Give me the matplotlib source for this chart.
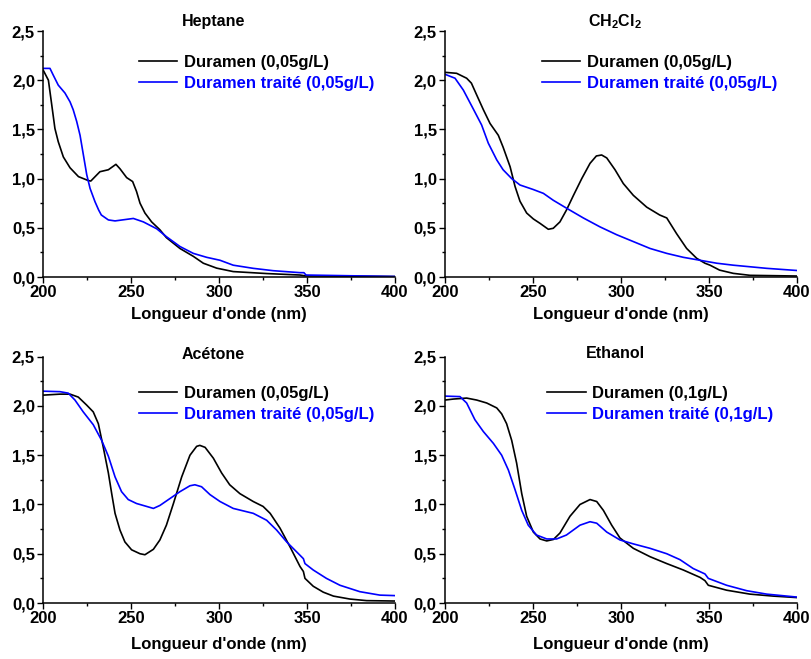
import numpy as np
import matplotlib
matplotlib.use("Agg")
import matplotlib.pyplot as plt
from matplotlib.ticker import MultipleLocator, FuncFormatter

plt.rcParams['font.family'] = ['Liberation Sans', 'DejaVu Sans']
plt.rcParams['mathtext.fontset'] = 'custom'
plt.rcParams['mathtext.rm'] = 'Liberation Sans'
plt.rcParams['mathtext.bf'] = 'Liberation Sans:bold'

# Heptane
hepWlBlack = [200, 202.9, 204.8, 206.6, 208.5, 211.4, 215.2, 220, 225.6, 227, 232.2, 237, 241.3,
              243.6, 247.4, 250.8, 253, 255, 257.8, 261.6, 266.3, 270, 277.7, 285.3, 291, 298.6,
              308, 327, 346, 348.8, 400]
hepAbsBlack = [2.10, 2.00, 1.75, 1.51, 1.375, 1.22, 1.11, 1.02, 0.98, 0.975, 1.07, 1.09, 1.145,
               1.10, 1.01, 0.97, 0.87, 0.75, 0.65, 0.56, 0.48, 0.40, 0.29, 0.21, 0.14, 0.09,
               0.055, 0.035, 0.02, 0.012, 0.005]
hepWlBlue = [200, 203.8, 205.7, 208.5, 212.3, 215.2, 217, 219, 220.9, 222.8, 224.7, 226.6, 229.4,
             231.5, 233, 237, 240.8, 251.2, 256.9, 264.5, 270, 277.7, 285.3, 292.9, 300.5, 308,
             319.4, 330.8, 346, 348.2, 349.4, 400]
hepAbsBlue = [2.12, 2.12, 2.05, 1.95, 1.87, 1.78, 1.70, 1.58, 1.44, 1.24, 1.04, 0.90, 0.765,
              0.68, 0.63, 0.58, 0.57, 0.595, 0.56, 0.49, 0.41, 0.31, 0.24, 0.20, 0.17, 0.12,
              0.088, 0.064, 0.044, 0.044, 0.02, 0.005]

# CH2Cl2
dcmWlBlack = [200, 206.6, 212.3, 215, 218, 221.8, 225.6, 230.3, 233, 237, 239.8, 242.6, 246.4, 250.2,
              254, 258.7, 261.5, 265.3, 269, 273, 277.7, 282.4, 286, 289, 291.9, 296.6, 301.3, 307,
              314.6, 322, 326, 331.6, 337.3, 343, 347.7, 350.6, 356, 363.8, 373.3, 400]
dcmAbsBlack = [2.08, 2.07, 2.02, 1.97, 1.85, 1.70, 1.56, 1.44, 1.32, 1.12, 0.92, 0.77, 0.65, 0.59,
               0.545, 0.485, 0.495, 0.56, 0.68, 0.83, 1.00, 1.155, 1.23, 1.24, 1.21, 1.09, 0.95, 0.83,
               0.71, 0.63, 0.60, 0.44, 0.29, 0.19, 0.14, 0.12, 0.07, 0.037, 0.017, 0.01]
dcmWlBlue = [200, 205.7, 210.4, 216, 220.8, 224.6, 229.4, 233, 237.9, 242.6, 250, 255.9, 261.5, 269,
             278.6, 288, 297.5, 307, 316.5, 326, 335.4, 344.9, 354.4, 363.8, 382.8, 400]
dcmAbsBlue = [2.06, 2.02, 1.90, 1.71, 1.545, 1.36, 1.19, 1.09, 1.00, 0.935, 0.89, 0.85, 0.78, 0.70,
              0.60, 0.51, 0.43, 0.36, 0.29, 0.24, 0.20, 0.17, 0.14, 0.12, 0.088, 0.066]

# Acetone
aceWlBlack = [200, 209.5, 215.2, 219.9, 224.6, 228.4, 231.3, 234, 237, 238.9, 240.8, 243.6, 246.4,
              250.2, 255, 257.8, 262.6, 266.3, 270, 274, 278.7, 283.4, 287.2, 289, 292, 296.7, 301.4,
              306, 311.8, 319.4, 325, 329, 334.6, 340.3, 346, 347.9, 348.8, 353.5, 359.2, 365, 374.4,
              383.9, 400]
aceAbsBlack = [2.11, 2.12, 2.12, 2.09, 2.01, 1.94, 1.82, 1.59, 1.32, 1.11, 0.91, 0.74, 0.62,
               0.54, 0.50, 0.49, 0.545, 0.64, 0.79, 1.01, 1.28, 1.50, 1.59, 1.60, 1.58, 1.47, 1.32,
               1.20, 1.11, 1.03, 0.98, 0.91, 0.76, 0.57, 0.37, 0.32, 0.25, 0.17, 0.11, 0.07, 0.04,
               0.024, 0.02]
aceWlBlue = [200, 209.5, 214.2, 218, 222.7, 228.4, 233.2, 237, 240.8, 244.5, 248.3, 253, 258.8, 262.6,
             266.3, 272, 277.7, 283.4, 286.2, 290, 294.8, 300.5, 308, 319.4, 327, 332.7, 338.4, 344,
             347.9, 348.8, 353.5, 361, 368.7, 380, 391.4, 400]
aceAbsBlue = [2.15, 2.145, 2.13, 2.06, 1.94, 1.81, 1.65, 1.49, 1.28, 1.13, 1.05, 1.01, 0.98, 0.96,
              0.99, 1.06, 1.13, 1.19, 1.20, 1.18, 1.10, 1.03, 0.96, 0.91, 0.84, 0.74, 0.62, 0.52,
              0.45, 0.40, 0.335, 0.25, 0.18, 0.115, 0.08, 0.075]

# Ethanol
ethWlBlack = [200, 204.7, 212.3, 218, 223.7, 229.4, 232.2, 235, 237.9, 240.7, 243.6, 246.4, 250.2,
              254, 257.8, 261.6, 265.3, 271, 276.7, 282.4, 286.2, 290, 294.7, 299.4, 307, 316.5, 326,
              335.4, 344.9, 347.7, 349.6, 360, 373.3, 386.5, 400]
ethAbsBlack = [2.06, 2.07, 2.08, 2.06, 2.03, 1.98, 1.92, 1.82, 1.65, 1.42, 1.11, 0.88, 0.72,
               0.65, 0.63, 0.645, 0.71, 0.88, 1.00, 1.05, 1.03, 0.94, 0.79, 0.66, 0.555, 0.47, 0.40,
               0.335, 0.26, 0.227, 0.18, 0.13, 0.09, 0.07, 0.055]
ethWlBlue = [200, 208.5, 212.3, 217, 221.8, 227.5, 232.2, 236, 239.8, 243.6, 247.3, 252, 257.8, 263.4,
             269, 276.7, 282.4, 286.2, 291.9, 299.4, 307, 316.5, 326, 333.5, 341, 347.7, 349.6, 360,
             371.4, 382.8, 400]
ethAbsBlue = [2.10, 2.095, 2.03, 1.86, 1.74, 1.62, 1.50, 1.35, 1.15, 0.94, 0.79, 0.69, 0.65, 0.65,
              0.69, 0.79, 0.825, 0.81, 0.72, 0.64, 0.60, 0.555, 0.50, 0.44, 0.35, 0.295, 0.25, 0.18,
              0.125, 0.09, 0.06]

titles = ["Heptane", r"CH$_\mathbf{2}$Cl$_\mathbf{2}$", "Acétone", "Ethanol"]
labelsBlack = ["Duramen (0,05g/L)", "Duramen (0,05g/L)", "Duramen (0,05g/L)", "Duramen (0,1g/L)"]
labelsBlue = ["Duramen traité (0,05g/L)", "Duramen traité (0,05g/L)", "Duramen traité (0,05g/L)",
              "Duramen traité (0,1g/L)"]
seriesBlack = [(hepWlBlack, hepAbsBlack), (dcmWlBlack, dcmAbsBlack), (aceWlBlack, aceAbsBlack),
               (ethWlBlack, ethAbsBlack)]
seriesBlue = [(hepWlBlue, hepAbsBlue), (dcmWlBlue, dcmAbsBlue), (aceWlBlue, aceAbsBlue),
              (ethWlBlue, ethAbsBlue)]

W, H = 812, 659
fig = plt.figure(figsize=(W / 100, H / 100), dpi=100)

# axes boxes in pixels: left, top, right, bottom
boxes = [(43.3, 31, 395, 277), (445, 31, 797, 277), (43.3, 356.7, 395, 603), (445, 356.7, 797, 603)]
titleY = [1.04, 1.04, 1.007, 1.015]
legendX = [0.272, 0.276, 0.272, 0.291]
legendY = [0.902, 0.902, 0.882, 0.882]
xlabelPad = [5, 5, 8, 8]

commaFmt = FuncFormatter(lambda v, p: f"{v:.1f}".replace(".", ","))

for i in range(4):
    l, t, r, b = boxes[i]
    ax = fig.add_axes([l / W, 1 - b / H, (r - l) / W, (b - t) / H])
    ax.plot(*seriesBlack[i], color="black", lw=1.2, label=labelsBlack[i])
    ax.plot(*seriesBlue[i], color="#0000ff", lw=1.2, label=labelsBlue[i])
    ax.set_xlim(200, 400)
    ax.set_ylim(0, 2.5)
    ax.spines["top"].set_visible(False)
    ax.spines["right"].set_visible(False)
    for s in ["left", "bottom"]:
        ax.spines[s].set_linewidth(1.1)
    ax.xaxis.set_major_locator(MultipleLocator(50))
    ax.xaxis.set_minor_locator(MultipleLocator(25))
    ax.yaxis.set_major_locator(MultipleLocator(0.5))
    ax.yaxis.set_minor_locator(MultipleLocator(0.25))
    ax.yaxis.set_major_formatter(commaFmt)
    ax.tick_params(which="major", direction="out", length=4, width=1, labelsize=12, pad=2)
    ax.tick_params(which="minor", direction="out", length=2, width=1)
    for lab in ax.get_xticklabels() + ax.get_yticklabels():
        lab.set_fontweight("bold")
    ax.set_xlabel("Longueur d'onde (nm)", fontsize=12, fontweight="bold", labelpad=xlabelPad[i])
    ax.text(0.483, titleY[i], titles[i], transform=ax.transAxes, ha="center", va="center",
            fontsize=11.5, fontweight="bold")
    leg = ax.legend(loc="upper left", bbox_to_anchor=(legendX[i], legendY[i]), frameon=False,
                    fontsize=12, handlelength=2.3, handletextpad=0.4, labelspacing=0.36,
                    borderpad=0, borderaxespad=0)
    for txt, col in zip(leg.get_texts(), ["black", "#0000ff"]):
        txt.set_color(col)
        txt.set_fontweight("bold")

fig.savefig("out.png", dpi=100)
